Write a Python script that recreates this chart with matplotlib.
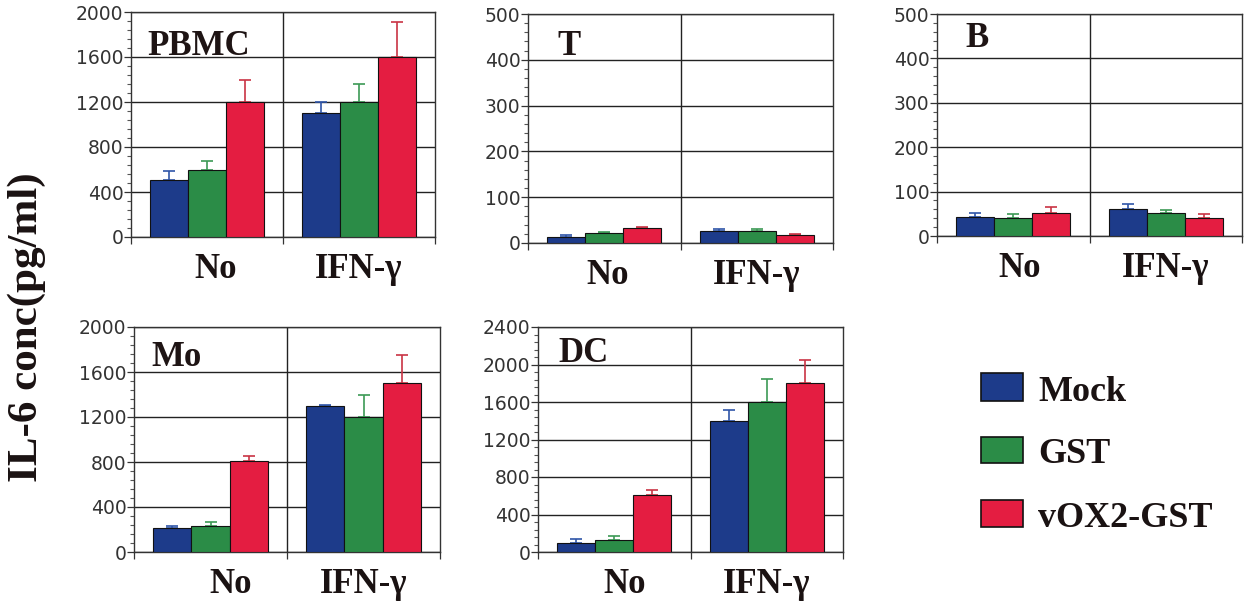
import matplotlib
matplotlib.use("Agg")
import matplotlib.pyplot as plt
from matplotlib.patches import Rectangle
from matplotlib.ticker import MultipleLocator, AutoMinorLocator
from matplotlib.transforms import blended_transform_factory

# ---------------- data ----------------
groups = ["No", "IFN-γ"]
series = ["Mock", "GST", "vOX2-GST"]
panel_names = ["PBMC", "T", "B", "Mo", "DC"]

# rows = series (Mock, GST, vOX2-GST), columns = groups (No, IFN-γ)
pbmc_mean = [[510, 1100], [600, 1200], [1200, 1600]]
pbmc_err = [[80, 100], [80, 160], [200, 310]]

t_mean = [[13, 27], [22, 26], [32, 18]]
t_err = [[5, 4], [3, 4], [3, 2]]

b_mean = [[42, 60], [41, 51], [51, 41]]
b_err = [[9, 11], [9, 8], [14, 9]]

mo_mean = [[210, 1300], [235, 1200], [810, 1500]]
mo_err = [[20, 10], [30, 200], [45, 250]]

dc_mean = [[100, 1400], [125, 1600], [610, 1800]]
dc_err = [[40, 120], [50, 250], [50, 245]]

y_max = [2000, 500, 500, 2000, 2400]
y_step = [400, 100, 100, 400, 400]

y_label = "IL-6 conc(pg/ml)"

# ---------------- style / layout ----------------
colors = ["#1d3b8a", "#2b8c47", "#e41d41"]
err_colors = ["#2f55a8", "#3c9a55", "#c93444"]
W, H = 1247, 606
serif = ["Liberation Serif", "DejaVu Serif"]
sans = ["DejaVu Sans"]

axes_px = [(131, 12, 435, 237), (528, 14, 833, 243), (937, 14, 1242, 236),
           (134, 327, 440, 552), (538, 327, 843, 552)]
label_px = [(147, 55), (557, 55), (965, 47), (151, 366), (558, 362)]
no_x = [0.56, 0.52, 0.54, 0.63, 0.57]

all_mean = [pbmc_mean, t_mean, b_mean, mo_mean, dc_mean]
all_err = [pbmc_err, t_err, b_err, mo_err, dc_err]

fig = plt.figure(figsize=(W / 100, H / 100), dpi=100)
fig.patch.set_facecolor("white")

bar_w = 0.25
centers = [0.5, 1.5]

for p, name in enumerate(panel_names):
    l, t, r, b = axes_px[p]
    ax = fig.add_axes([l / W, 1 - b / H, (r - l) / W, (b - t) / H])
    means = all_mean[p]
    errs = all_err[p]
    for i, s in enumerate(series):
        xs = [c + (i - 1) * bar_w for c in centers]
        ax.bar(xs, means[i], width=bar_w, color=colors[i], edgecolor="#111111",
               linewidth=0.8, zorder=3)
        ax.errorbar(xs, means[i], yerr=[[0, 0], errs[i]], fmt="none",
                    ecolor=err_colors[i], elinewidth=1.2, capsize=4,
                    capthick=1.2, zorder=2.5)
    ax.set_xlim(0, 2)
    ax.set_ylim(0, y_max[p])
    ax.set_xticks([0, 1, 2])
    ax.set_xticklabels([])
    ax.yaxis.set_major_locator(MultipleLocator(y_step[p]))
    ax.yaxis.set_minor_locator(AutoMinorLocator(5))
    ax.tick_params(axis="y", which="major", direction="out", length=5,
                   width=0.9, labelsize=13.5, pad=0.5, colors="#333333",
                   labelcolor="#333333")
    ax.tick_params(axis="y", which="minor", direction="out", length=3,
                   width=0.8, colors="#555555")
    ax.tick_params(axis="x", which="major", direction="out", length=5,
                   width=0.9, colors="#333333")
    for lab in ax.get_yticklabels():
        lab.set_fontfamily(sans)
    ax.yaxis.grid(True, color="#222222", linewidth=1.0)
    ax.set_axisbelow(True)
    ax.axvline(1, color="#222222", linewidth=1.0, zorder=1)
    for sp in ax.spines.values():
        sp.set_color("#333333")
        sp.set_linewidth(1.0)

    trans = blended_transform_factory(ax.transData, ax.transAxes)
    h_px = b - t
    ax.text(no_x[p], -41 / h_px, groups[0], transform=trans, ha="center",
            va="baseline", fontsize=25, fontweight="bold", family=serif,
            color="#1a1212")
    ax.text(1.5, -41 / h_px, groups[1], transform=trans, ha="center",
            va="baseline", fontsize=25, fontweight="bold", family=serif,
            color="#1a1212")

    lx, ly = label_px[p]
    fig.text(lx / W, 1 - ly / H, name, ha="left", va="baseline", fontsize=25,
             fontweight="bold", family=serif, color="#1e1414")

# y label
fig.text(27 / W, 1 - 327 / H, y_label, rotation=90, ha="center", va="center",
         fontsize=31, fontweight="bold", family=serif, color="#1a1212")

# legend
leg_boxes = [(981, 373, 1023, 401), (981, 437, 1023, 463), (981, 500, 1023, 527)]
for i, s in enumerate(series):
    x0, y0, x1, y1 = leg_boxes[i]
    fig.add_artist(Rectangle((x0 / W, 1 - y1 / H), (x1 - x0) / W, (y1 - y0) / H,
                             transform=fig.transFigure, facecolor=colors[i],
                             edgecolor="#111111", linewidth=1.2))
    fig.text(1038 / W, 1 - y1 / H, s, ha="left", va="baseline", fontsize=26,
             fontweight="bold", family=serif, color="#1a1212")

fig.savefig("out.png", dpi=100)
